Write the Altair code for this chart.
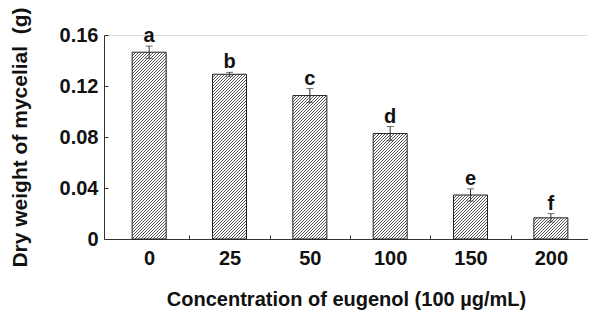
import altair as alt
import pandas as pd

# ---- data ----
conc_labels = ["0", "25", "50", "100", "150", "200"]
dry_weight = [0.1465, 0.1292, 0.1125, 0.0827, 0.0345, 0.0166]
err = [0.0048, 0.0015, 0.0055, 0.0055, 0.0048, 0.0033]
letters = ["a", "b", "c", "d", "e", "f"]
y_ticks = [0, 0.04, 0.08, 0.12, 0.16]

df = pd.DataFrame({
    "idx": list(range(len(conc_labels))),
    "conc": conc_labels,
    "value": dry_weight,
    "err": err,
    "letter": letters,
})
df["lo"] = df["value"] - df["err"]
df["hi"] = df["value"] + df["err"]

FONT = "Liberation Sans"
PLOT_W, PLOT_H = 484, 204
Y_MAX = 0.16
BAR_W = 34

x_scale = alt.Scale(domain=[-0.5, 5.4], nice=False, zero=False)
y_scale = alt.Scale(domain=[0, Y_MAX], nice=False, zero=True)

label_expr = "[" + ",".join("'%s'" % s for s in conc_labels) + "][round(datum.value)]"


def hatch(value):
    """Diagonal '/' hatching as a linear gradient in the bar's bounding box."""
    w = float(BAR_W)
    h = max(value / Y_MAX * PLOT_H, 1.0)
    k = (w + h) / (w * w + h * h)
    period = 3.0 / (w + h)
    line = 0.9 / (w + h)
    stops = []
    t = 0.0
    dark, light = "#555555", "#ffffff"
    stops.append(alt.GradientStop(offset=0.0, color=light))
    while t + period <= 1.0:
        stops.append(alt.GradientStop(offset=t, color=light))
        stops.append(alt.GradientStop(offset=t, color=dark))
        stops.append(alt.GradientStop(offset=t + line, color=dark))
        stops.append(alt.GradientStop(offset=t + line, color=light))
        t += period
    stops.append(alt.GradientStop(offset=1.0, color=light))
    return alt.LinearGradient(gradient="linear", stops=stops,
                              x1=0, y1=0, x2=w * k, y2=h * k)


base = alt.Chart(df)

# main axes (labels + domain lines)
x_main = alt.Axis(values=list(range(6)), labelExpr=label_expr, ticks=False,
                  domain=True, domainColor="#333333", grid=False,
                  labelFont=FONT, labelFontSize=20, labelFontWeight="bold",
                  labelColor="#111111", labelPadding=9, labelBaseline="top",
                  title="Concentration of eugenol (100 µg/mL)",
                  titleFont=FONT, titleFontSize=20, titleFontWeight="bold",
                  titleColor="#111111", titlePadding=21, orient="bottom")
y_main = alt.Axis(values=y_ticks,
                  labelExpr="datum.value == 0 ? '0' : format(datum.value, '.2f')",
                  ticks=False, domain=True, domainColor="#333333", grid=False,
                  labelFont=FONT, labelFontSize=20, labelFontWeight="bold",
                  labelColor="#111111", labelPadding=6,
                  title="Dry weight of mycelial\u00a0 (g)",
                  titleFont=FONT, titleFontSize=21, titleFontWeight="bold",
                  titleColor="#111111", titlePadding=29, orient="left")
# inward tick axes
x_ticks_ax = alt.Axis(values=[0.5, 1.5, 2.5, 3.5, 4.5], labels=False, domain=False,
                      ticks=True, tickSize=4, tickColor="#333333", offset=-4,
                      grid=False, title=None, orient="bottom")
y_ticks_ax = alt.Axis(values=y_ticks, labels=False, domain=False, ticks=True,
                      tickSize=4, tickColor="#333333", offset=-4, grid=False,
                      title=None, orient="left")

layers = []
for i, v in enumerate(dry_weight):
    enc_x = alt.X("idx:Q", scale=x_scale, axis=(x_main if i == 0 else None))
    enc_y = alt.Y("value:Q", scale=y_scale, axis=(y_main if i == 0 else None))
    layers.append(
        base.transform_filter(alt.datum.idx == i)
        .mark_bar(orient="vertical", size=BAR_W, fill=hatch(v),
                  stroke="#222222", strokeWidth=1)
        .encode(x=enc_x, y=enc_y)
    )

rules = base.mark_rule(color="#333333", strokeWidth=1).encode(
    x=alt.X("idx:Q", scale=x_scale, axis=x_ticks_ax),
    y=alt.Y("lo:Q", scale=y_scale, axis=y_ticks_ax),
    y2="hi:Q",
)
cap_lo = base.mark_tick(orient="horizontal", size=7, thickness=1, color="#333333").encode(
    x=alt.X("idx:Q", scale=x_scale, axis=None),
    y=alt.Y("lo:Q", scale=y_scale, axis=None),
)
cap_hi = base.mark_tick(orient="horizontal", size=7, thickness=1, color="#333333").encode(
    x=alt.X("idx:Q", scale=x_scale, axis=None),
    y=alt.Y("hi:Q", scale=y_scale, axis=None),
)
text = base.mark_text(font=FONT, fontSize=20, fontWeight="bold", color="#111111",
                      baseline="alphabetic", dy=-4).encode(
    x=alt.X("idx:Q", scale=x_scale, axis=None),
    y=alt.Y("hi:Q", scale=y_scale, axis=None),
    text="letter:N",
)

chart = alt.layer(*layers, rules, cap_lo, cap_hi, text).resolve_axis(
    x="independent", y="independent"
).properties(
    width=PLOT_W, height=PLOT_H,
    autosize=alt.AutoSizeParams(type="none"),
    padding={"left": 96, "top": 27, "right": 0, "bottom": 74},
).configure_view(stroke=None).configure(background="white")

chart.save("out.html", embed_options={"renderer": "svg", "actions": False})
